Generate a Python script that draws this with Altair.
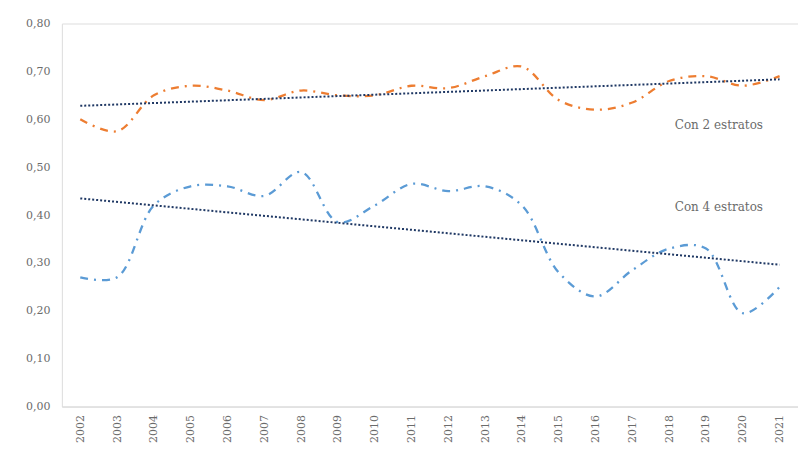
import altair as alt
import pandas as pd

years = list(range(2002, 2022))
con2 = [0.60, 0.575, 0.65, 0.67, 0.66, 0.64, 0.66, 0.65, 0.65, 0.67,
        0.665, 0.69, 0.71, 0.64, 0.62, 0.635, 0.68, 0.69, 0.67, 0.69]
con4 = [0.27, 0.27, 0.42, 0.46, 0.46, 0.44, 0.49, 0.385, 0.42, 0.465,
        0.45, 0.46, 0.42, 0.28, 0.23, 0.285, 0.33, 0.33, 0.195, 0.25]
series_names = ["Con 2 estratos", "Con 4 estratos"]
series_colors = ["#ED7D31", "#5B9BD5"]
y_ticks = [0.0, 0.1, 0.2, 0.3, 0.4, 0.5, 0.6, 0.7, 0.8]

rows = []
for yr, a, b in zip(years, con2, con4):
    rows.append({"year": yr, "value": a, "serie": series_names[0]})
    rows.append({"year": yr, "value": b, "serie": series_names[1]})
df = pd.DataFrame(rows)

label_df = pd.DataFrame({
    "year": [2019.35, 2019.35],
    "value": [0.588, 0.417],
    "text": series_names,
})

FONT = "DejaVu Serif"

x_enc = alt.X("year:Q",
              scale=alt.Scale(domain=[2001.5, 2021.5], nice=False, zero=False),
              axis=alt.Axis(values=years, format="d", labelAngle=-90, title=None,
                            grid=False, ticks=False, domainColor="#D9D9D9",
                            labelOverlap=False, labelPadding=8, labelAlign="right",
                            labelBaseline="middle"))
y_enc = alt.Y("value:Q",
              scale=alt.Scale(domain=[0, 0.8], nice=False),
              axis=alt.Axis(values=y_ticks, title=None, grid=False, ticks=False,
                            domain=False, labelPadding=12,
                            labelExpr="replace(format(datum.value, '.2f'), '.', ',')"))
color_enc = alt.Color("serie:N", scale=alt.Scale(domain=series_names, range=series_colors),
                      legend=None)

lines = alt.Chart(df).mark_line(
    interpolate="catmull-rom", strokeWidth=2.3, strokeDash=[8, 6, 2, 6]
).encode(x=x_enc, y=y_enc, color=color_enc, detail="serie:N")

trend = alt.Chart(df).transform_regression(
    "year", "value", groupby=["serie"]
).mark_line(color="#1F3864", strokeWidth=2, strokeDash=[2, 2]).encode(
    x=x_enc, y=y_enc, detail="serie:N")

labels = alt.Chart(label_df).mark_text(
    font=FONT, fontSize=12, color="#6b6b6b", align="center", baseline="middle"
).encode(x=x_enc, y=y_enc, text="text:N")

chart = alt.layer(lines, trend, labels).properties(
    width=738, height=384,
    autosize=alt.AutoSizeParams(type="none"),
    padding={"left": 54, "top": 15, "right": 0, "bottom": 45},
).configure_view(stroke=None).configure(
    background="white", font=FONT
).configure_axis(
    labelFont=FONT, labelFontSize=11, labelColor="#6b6b6b"
)

chart.save("out.html", embed_options={"renderer": "svg", "actions": False})
